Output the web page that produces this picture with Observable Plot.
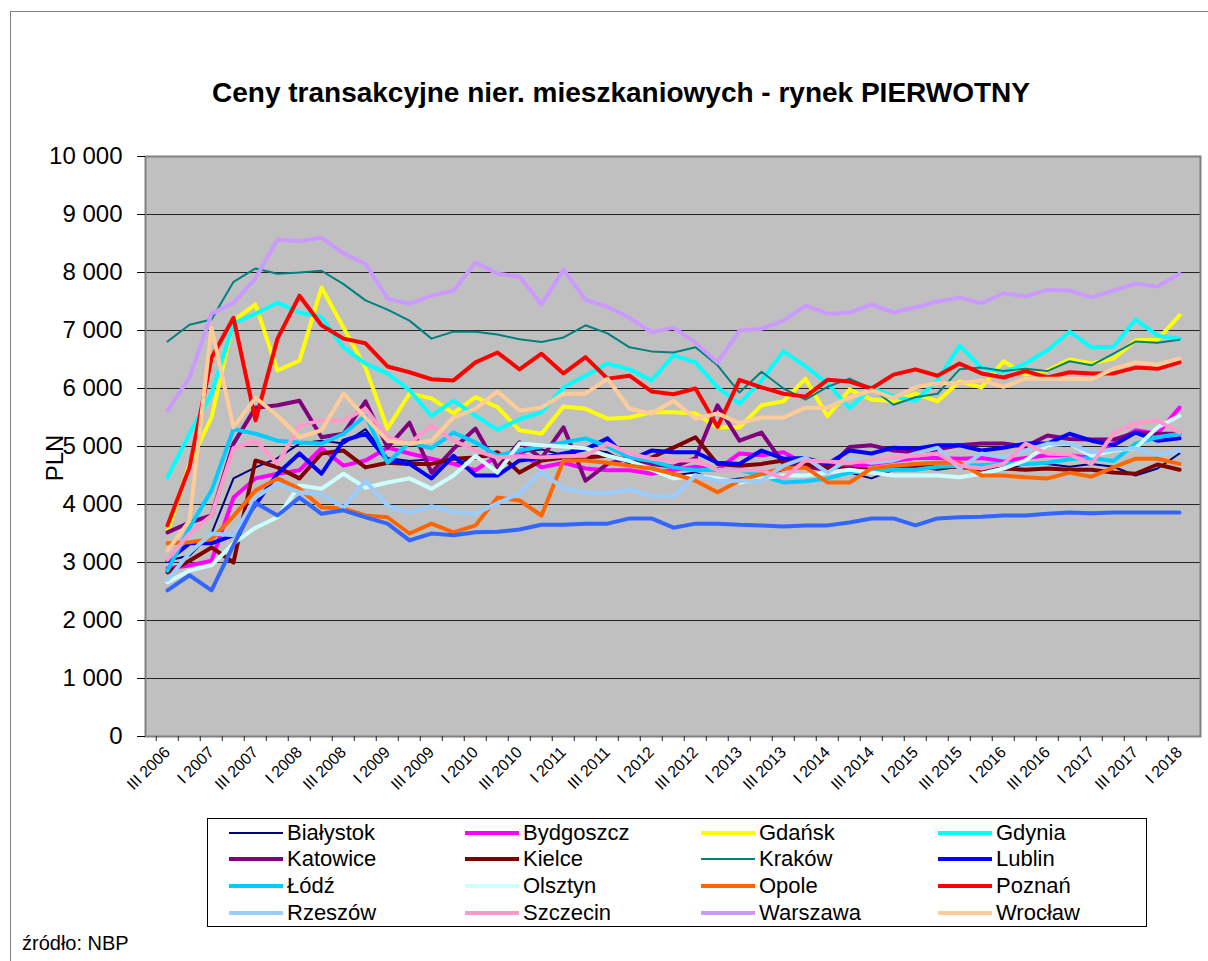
<!DOCTYPE html>
<html><head><meta charset="utf-8">
<script src="https://cdn.jsdelivr.net/npm/d3@7"></script>
<script src="https://cdn.jsdelivr.net/npm/@observablehq/plot@0.6"></script>
<style>
body{margin:0;background:#fff;font-family:Arial,"Liberation Sans",sans-serif;}
#wrap{position:relative;width:1208px;height:961px;overflow:hidden;background:#fff;}
#frame{position:absolute;left:10px;top:11px;width:1300px;height:1000px;border-left:1px solid #808080;border-top:1px solid #808080;}
#chart{position:absolute;left:0;top:0;}
#title{position:absolute;top:79px;left:0;width:1242px;text-align:center;font-weight:bold;font-size:28px;line-height:28px;color:#000;white-space:nowrap;}
#ylab{position:absolute;left:55px;top:458px;transform:translate(-50%,-50%) rotate(-90deg);font-size:24px;}
#legend{position:absolute;left:207px;top:818px;width:940px;height:109px;border:1px solid #000;box-sizing:border-box;background:#fff;}
.li{position:absolute;font-size:22px;line-height:22px;white-space:nowrap;}
.sw{position:absolute;height:4px;width:54px;}
#src{position:absolute;left:22px;top:932px;font-size:20px;line-height:22px;}
</style></head>
<body><div id="wrap"><div id="frame"></div><div id="chart"></div>
<div id="title">Ceny transakcyjne nier. mieszkaniowych - rynek PIERWOTNY</div>
<div id="ylab">PLN</div>
<div id="legend"></div>
<div id="src">źródło: NBP</div>
</div>
<script>
const quarters = ["III 2006","IV 2006","I 2007","II 2007","III 2007","IV 2007","I 2008","II 2008","III 2008","IV 2008","I 2009","II 2009","III 2009","IV 2009","I 2010","II 2010","III 2010","IV 2010","I 2011","II 2011","III 2011","IV 2011","I 2012","II 2012","III 2012","IV 2012","I 2013","II 2013","III 2013","IV 2013","I 2014","II 2014","III 2014","IV 2014","I 2015","II 2015","III 2015","IV 2015","I 2016","II 2016","III 2016","IV 2016","I 2017","II 2017","III 2017","IV 2017","I 2018"];
const tickLabels = ["III 2006","I 2007","III 2007","I 2008","III 2008","I 2009","III 2009","I 2010","III 2010","I 2011","III 2011","I 2012","III 2012","I 2013","III 2013","I 2014","III 2014","I 2015","III 2015","I 2016","III 2016","I 2017","III 2017","I 2018"];
const yTicks = [0,1000,2000,3000,4000,5000,6000,7000,8000,9000,10000];

const bialystok = [3030,3120,3500,4450,4640,4800,5050,5100,5050,5300,4800,4750,4780,4700,4800,4850,4900,4950,4850,4950,4900,4700,4600,4500,4550,4400,4450,4500,4600,4700,4600,4550,4450,4600,4650,4600,4650,4650,4600,4700,4700,4650,4700,4650,4500,4620,4880];
const bydgoszcz = [2900,2950,3030,4120,4450,4530,4590,4970,4670,4760,4980,4880,4790,4700,4590,4840,4900,4640,4720,4620,4590,4590,4530,4600,4650,4600,4880,4850,4900,4700,4650,4650,4700,4750,4800,4800,4790,4800,4750,4800,4850,4850,4800,5050,5280,5220,5670];
const gdansk = [3520,4700,5500,7170,7450,6310,6480,7740,7050,6360,5310,5910,5830,5570,5850,5680,5280,5220,5690,5650,5480,5500,5590,5590,5570,5330,5330,5710,5780,6170,5520,5980,5810,5780,5910,5780,6120,6020,6470,6240,6310,6500,6430,6520,6830,6840,7260];
const gdynia = [4470,5220,5910,7120,7290,7480,7310,7230,6710,6430,6260,5970,5530,5790,5530,5290,5470,5590,6020,6220,6430,6330,6140,6570,6450,6020,5740,6140,6640,6380,6090,5660,6020,5860,5790,6140,6740,6360,6280,6430,6660,6980,6710,6720,7190,6910,6860];
const katowice = [3520,3690,3810,5050,5670,5710,5790,5160,5220,5780,4980,5410,4550,4960,5310,4640,5070,4800,5330,4410,4700,4800,4700,4650,4800,5710,5100,5240,4700,4650,4600,4990,5020,4930,4900,4950,5020,5050,5050,5000,5190,5130,5120,5120,5240,5220,5220];
const kielce = [2830,3030,3260,3000,4760,4640,4450,4880,4930,4640,4720,4700,4700,4790,4810,4900,4550,4760,4810,4810,4840,4760,4810,4980,5160,4700,4670,4700,4760,4700,4640,4620,4600,4620,4650,4650,4650,4600,4620,4600,4620,4600,4600,4550,4530,4690,4600];
const krakow = [6810,7100,7190,7840,8070,7980,8000,8030,7800,7520,7360,7170,6860,6980,6980,6930,6850,6800,6880,7090,6950,6710,6640,6620,6710,6400,5930,6290,6000,5810,6030,6170,6000,5720,5850,5910,6330,6360,6300,6340,6300,6470,6400,6600,6810,6790,6840];
const lublin = [3030,3330,3330,3470,4000,4530,4880,4530,5100,5220,4760,4700,4450,4840,4500,4500,4760,4800,4880,4950,5140,4760,4930,4900,4900,4720,4700,4930,4790,4800,4700,4930,4880,4980,4960,5020,5020,4930,4980,5050,5050,5220,5100,5020,5240,5100,5140];
const lodz = [2860,3600,4240,5300,5220,5100,5070,5050,5220,5530,4720,5070,4970,5240,5070,4840,4930,5000,5070,5140,5000,4810,4750,4640,4590,4600,4600,4500,4380,4400,4450,4550,4580,4600,4600,4650,4670,4680,4700,4700,4720,4780,4800,4750,5050,5160,5220];
const olsztyn = [2660,2860,2950,3330,3600,3780,4330,4270,4530,4290,4380,4450,4270,4500,4840,4550,5050,5020,5000,4970,4840,4750,4600,4450,4500,4450,4380,4450,4500,4500,4550,4600,4550,4500,4500,4500,4470,4530,4620,4760,5020,5050,4840,4930,4970,5330,5530];
const opole = [3330,3350,3400,3800,4240,4450,4270,3950,3930,3810,3780,3500,3670,3520,3640,4120,4070,3810,4760,4760,4720,4670,4620,4530,4410,4210,4410,4530,4620,4640,4380,4380,4620,4670,4700,4720,4720,4500,4500,4470,4450,4550,4480,4640,4790,4790,4700];
const poznan = [3640,4640,6530,7220,5450,6860,7600,7090,6860,6780,6380,6280,6160,6140,6450,6620,6330,6600,6260,6540,6170,6220,5950,5900,6000,5340,6150,6020,5910,5860,6150,6120,6000,6240,6330,6220,6430,6260,6190,6300,6190,6280,6260,6260,6360,6340,6450];
const rzeszow = [2700,3170,3500,3470,4120,4360,4210,4170,3950,4410,3980,3860,3970,3870,3840,4020,4190,4570,4270,4210,4190,4260,4150,4140,4500,4410,4410,4410,4670,4810,4550,4790,4720,4760,4880,4980,4620,4880,4810,4930,5050,5050,4900,4950,4970,4860,4930];
const szczecin = [3050,3500,3810,4970,5100,4700,5360,5450,5450,5650,5160,5050,5360,5100,4930,4810,4830,4810,4830,4840,5050,4880,4790,4760,4760,4590,4590,4590,4450,4760,4740,4720,4760,4810,4840,4880,4670,4620,4700,5050,4880,4860,4700,5220,5400,5450,5240];
const warszawa = [5620,6190,7290,7480,7900,8570,8540,8600,8330,8150,7550,7460,7600,7690,8170,7980,7930,7450,8050,7530,7410,7220,6970,7050,6790,6450,7000,7030,7170,7430,7290,7310,7450,7310,7400,7500,7570,7470,7640,7590,7700,7690,7570,7690,7810,7760,7980];
const wroclaw = [3210,3720,7050,5330,5840,5530,5160,5280,5910,5500,5100,5050,5100,5500,5650,5950,5620,5670,5910,5910,6170,5650,5570,5790,5480,5570,5400,5500,5500,5670,5670,5840,5970,5830,6020,6090,6090,6140,6030,6170,6170,6170,6160,6340,6450,6410,6520];
const zielonaGora = [2520,2780,2520,3300,4030,3810,4120,3840,3900,3780,3670,3380,3500,3470,3520,3530,3570,3650,3650,3670,3670,3760,3760,3600,3670,3670,3650,3640,3620,3640,3640,3690,3760,3760,3640,3760,3780,3790,3810,3810,3840,3860,3850,3860,3860,3860,3860];

const seriesNames = ["Białystok","Bydgoszcz","Gdańsk","Gdynia","Katowice","Kielce","Kraków","Lublin","Łódź","Olsztyn","Opole","Poznań","Rzeszów","Szczecin","Warszawa","Wrocław","Zielona Góra"];
const seriesValues = [bialystok,bydgoszcz,gdansk,gdynia,katowice,kielce,krakow,lublin,lodz,olsztyn,opole,poznan,rzeszow,szczecin,warszawa,wroclaw,zielonaGora];
const seriesColors = ["#000080","#FF00FF","#FFFF00","#00FFFF","#800080","#800000","#008080","#0000FF","#00CCFF","#CCFFFF","#FF6600","#FF0000","#99CCFF","#FF99CC","#CC99FF","#FFCC99","#3366FF"];
const seriesWidths = [2,4,4,4,4,4,2,4,4,4,4,4,4,4,4,4,4];
const inLegend = 16;

const fmt = d => d3.format(",")(d).replace(/,/g, " ");

const W = 1208, H = 961, mL = 145, mR = 8, mT = 156, mB = 225;
const halfStep = (W - mL - mR) / quarters.length / 2;

const lineMarks = seriesNames.map((name, k) =>
  Plot.line(quarters.map((q, i) => ({q, v: seriesValues[k][i]})), {
    x: "q", y: "v", stroke: seriesColors[k], strokeWidth: seriesWidths[k],
    strokeLinejoin: "round", strokeLinecap: "round"
  })
);

const chart = Plot.plot({
  width: W, height: H,
  marginLeft: mL, marginRight: mR, marginTop: mT, marginBottom: mB,
  style: {fontFamily: "Arial, 'Liberation Sans', sans-serif", background: "transparent", color: "#000"},
  x: {type: "point", domain: quarters, padding: 0.5},
  y: {domain: [0, 10000]},
  marks: [
    Plot.frame({fill: "#C0C0C0", stroke: null}),
    Plot.ruleY(yTicks, {stroke: "#222", strokeWidth: 1.2}),
    ...lineMarks,
    Plot.frame({stroke: "#808080", strokeWidth: 2}),
    Plot.axisY({ticks: yTicks, tickFormat: fmt, fontSize: 24, tickSize: 8, tickPadding: 15, label: null}),
    Plot.axisX({ticks: quarters, tickFormat: () => "", tickSize: 5, dx: -halfStep, label: null, stroke: "#222"}),
    Plot.axisX({ticks: tickLabels, tickRotate: -45, tickSize: 0, tickPadding: 13, fontSize: 16, label: null})
  ]
});
document.getElementById("chart").appendChild(chart);

const legend = document.getElementById("legend");
const colX = [21, 257, 493, 730];
const rowY = [14, 40, 67, 94];
for (let k = 0; k < inLegend; k++) {
  const c = k % 4, r = Math.floor(k / 4);
  const sw = document.createElement("div");
  sw.className = "sw";
  sw.style.left = colX[c] + "px";
  sw.style.top = (rowY[r] - seriesWidths[k] / 2) + "px";
  sw.style.height = seriesWidths[k] + "px";
  sw.style.background = seriesColors[k];
  legend.appendChild(sw);
  const t = document.createElement("div");
  t.className = "li";
  t.style.left = (colX[c] + 58) + "px";
  t.style.top = (rowY[r] - 11) + "px";
  t.textContent = seriesNames[k];
  legend.appendChild(t);
}
</script></body></html>
